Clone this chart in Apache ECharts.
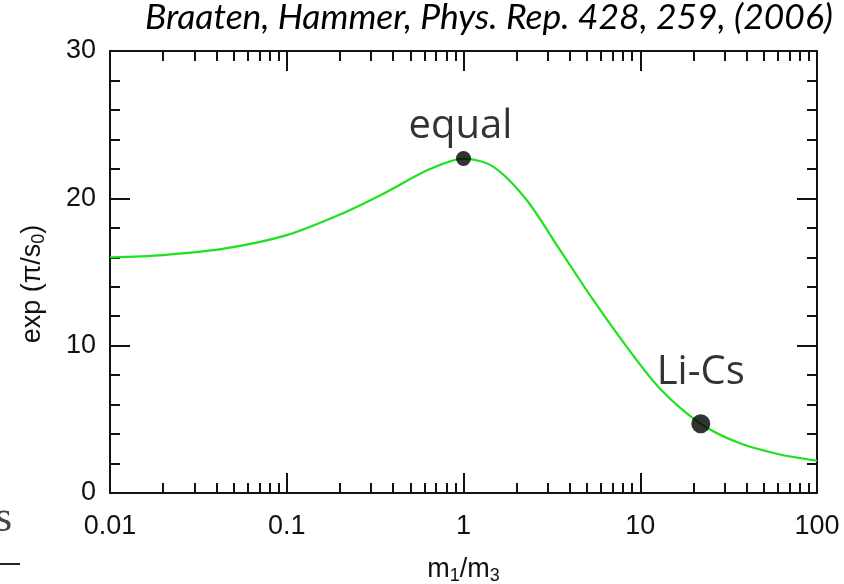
<!DOCTYPE html>
<html>
<head>
<meta charset="utf-8">
<style>
html, body {
  margin: 0;
  padding: 0;
  background: #fff;
}
#chart {
  width: 844px;
  height: 584px;
}
</style>
<script src="https://cdn.jsdelivr.net/npm/echarts@6/dist/echarts.min.js"></script>
</head>
<body>
<div id="chart"></div>
<script>
// curve exp(pi/s0) against m1/m3
const massRatio = [0.01, 0.02, 0.045, 0.1, 0.2, 0.35, 0.65, 1, 1.47, 2.27, 3.51, 5.42, 8.37, 12.9, 22, 36.6, 60, 100]
const scaleFactor = [16.0, 16.15, 16.6, 17.5, 18.9, 20.3, 22.0, 22.7, 22.15, 19.9, 16.5, 13.1, 9.93, 7.1, 4.7, 3.37, 2.65, 2.19]

// marked systems
const markNames = ['equal', 'Li-Cs']
const markX = [1, 22]
const markY = [22.7, 4.7]
const markSizes = [15, 19]

// minor log ticks
const decades = [0.01, 0.1, 1, 10]
const multipliers = [2, 3, 4, 5, 6, 7, 8, 9]
const minorTicks = []
decades.forEach(d => multipliers.forEach(m => minorTicks.push(Math.log10(d * m))))

const tickFont = '"Liberation Sans", Arial, sans-serif'
const black = '#111'

const chart = echarts.init(document.getElementById('chart'))

function logAxis (pos, withLabels) {
  return {
    type: 'log',
    logBase: 10,
    min: 0.01,
    max: 100,
    position: pos,
    axisLine: { show: true, onZero: false, lineStyle: { color: black, width: 2 } },
    axisTick: { show: true, inside: true, length: 20, lineStyle: { color: black, width: 2 } },
    axisLabel: { show: withLabels, color: black, fontSize: 27, fontFamily: tickFont, margin: 20 },
    splitLine: { show: false },
    minorTick: { show: false },
    name: withLabels ? '{a|m}{b|1}{a|/m}{b|3}' : '',
    nameLocation: 'middle',
    nameGap: 61,
    nameTextStyle: {
      fontSize: 27,
      fontFamily: tickFont,
      color: black,
      rich: {
        a: { fontSize: 27, fontFamily: tickFont, color: black },
        b: { fontSize: 18, fontFamily: tickFont, color: black, padding: [13, 0, 0, 0] }
      }
    }
  }
}

function minorAxis (pos) {
  return {
    type: 'value',
    min: -2,
    max: 2,
    position: pos,
    axisLine: { show: false, onZero: false },
    axisTick: { show: true, inside: true, length: 10, customValues: minorTicks, lineStyle: { color: black, width: 2 } },
    axisLabel: { show: false },
    splitLine: { show: false }
  }
}

function valAxis (pos, withLabels) {
  return {
    type: 'value',
    min: 0,
    max: 30,
    interval: 10,
    position: pos,
    axisLine: { show: true, onZero: false, lineStyle: { color: black, width: 2 } },
    axisTick: { show: true, inside: true, length: 20, lineStyle: { color: black, width: 2 } },
    minorTick: { show: true, splitNumber: 5, length: 10, lineStyle: { color: black, width: 2 } },
    axisLabel: { show: withLabels, color: black, fontSize: 27, fontFamily: tickFont, margin: 14 },
    splitLine: { show: false },
    name: withLabels ? '{a|exp (π/s}{b|0}{a|)}' : '',
    nameLocation: 'middle',
    nameRotate: 90,
    nameGap: 62,
    nameTextStyle: {
      fontSize: 27,
      fontFamily: tickFont,
      color: black,
      padding: [0, 24, 0, 0],
      rich: {
        a: { fontSize: 27, fontFamily: tickFont, color: black },
        b: { fontSize: 18, fontFamily: tickFont, color: black, padding: [13, 0, 0, 0] }
      }
    }
  }
}

const option = {
  animation: false,
  backgroundColor: '#fff',
  grid: { left: 110, right: 27, top: 51, bottom: 91, containLabel: false, outerBoundsMode: 'none' },
  xAxis: [logAxis('bottom', true), logAxis('top', false), minorAxis('bottom'), minorAxis('top')],
  yAxis: [valAxis('left', true), valAxis('right', false)],
  graphic: [
    {
      type: 'text',
      right: 11,
      top: 0,
      style: {
        text: 'Braaten, Hammer, Phys. Rep. 428, 259, (2006)',
        font: 'italic 35.5px Lato, "Open Sans", sans-serif',
        fill: '#000'
      }
    },
    {
      type: 'text',
      left: -5,
      top: 497,
      style: { text: 's', font: '44px "Liberation Serif", serif', fill: '#444' }
    },
    {
      type: 'rect',
      shape: { x: 0, y: 563, width: 20, height: 2 },
      style: { fill: '#222' }
    }
  ],
  series: [
    {
      type: 'line',
      xAxisIndex: 0,
      yAxisIndex: 0,
      smooth: 0.3,
      showSymbol: false,
      lineStyle: { color: '#1de21d', width: 2.2 },
      data: massRatio.map((x, i) => [x, scaleFactor[i]]),
      z: 3
    },
    {
      type: 'scatter',
      xAxisIndex: 0,
      yAxisIndex: 0,
      itemStyle: { color: '#000' },
      data: markNames.map((n, i) => ({
        name: n,
        value: [markX[i], markY[i]],
        symbolSize: markSizes[i],
        label: {
          show: true,
          position: 'top',
          distance: i === 0 ? 4 : 22,
          offset: i === 0 ? [-3, 0] : [0, 0],
          formatter: '{b}',
          fontSize: 40,
          fontFamily: '"Open Sans", sans-serif',
          color: '#000'
        }
      })),
      z: 4
    }
  ]
}

chart.setOption(option)
</script>
</body>
</html>
